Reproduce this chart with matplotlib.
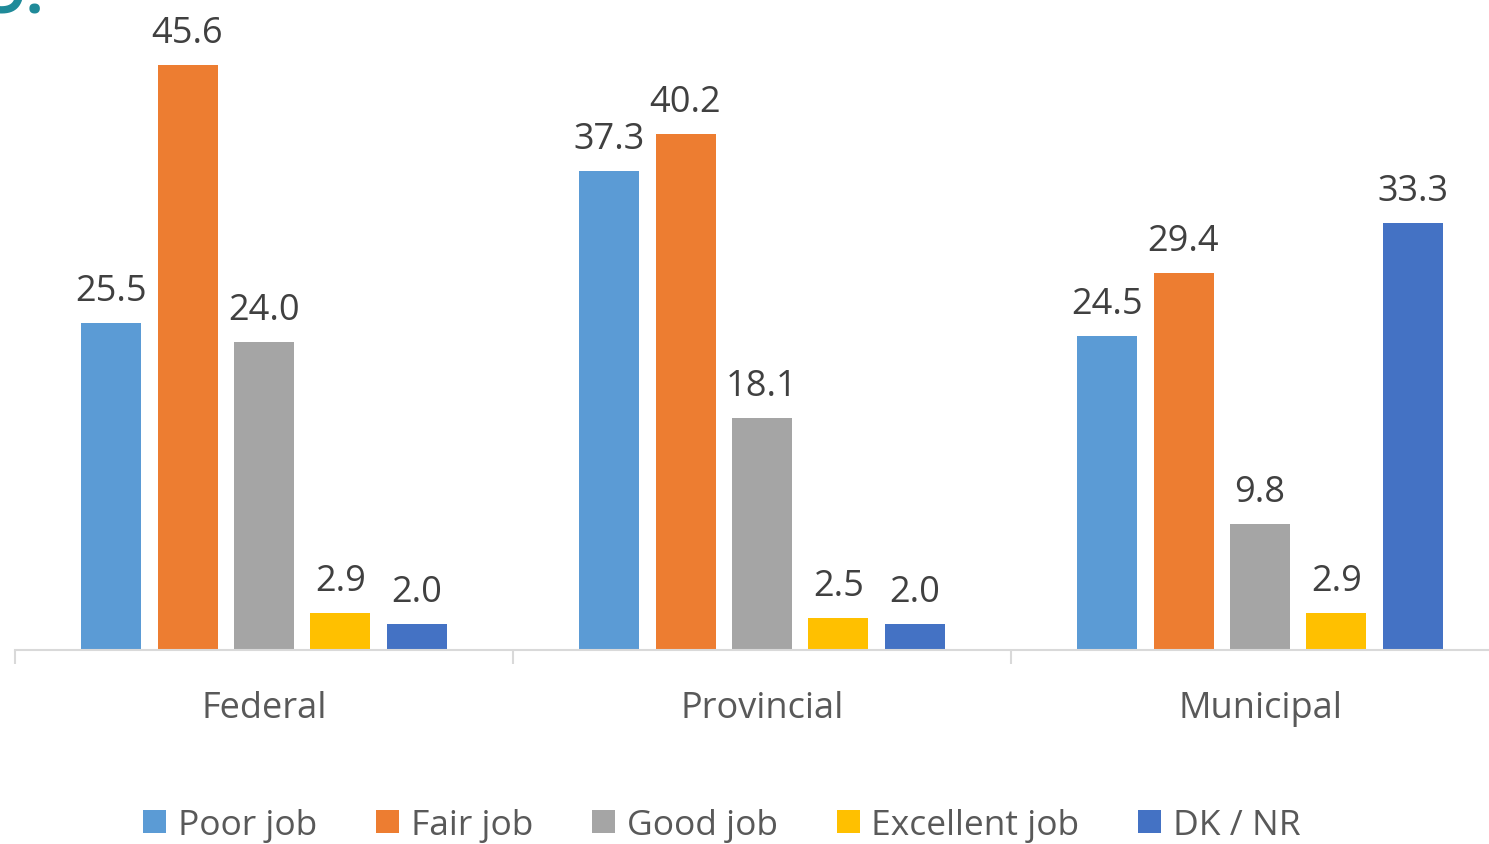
import numpy as np
import matplotlib.pyplot as plt

# ---------------------------------------------------------
# Data
# ---------------------------------------------------------
levels = ['Federal', 'Provincial', 'Municipal']
series_names = ['Poor job', 'Fair job', 'Good job', 'Excellent job', 'DK / NR']
poor_job = [25.5, 37.3, 24.5]
fair_job = [45.6, 40.2, 29.4]
good_job = [24.0, 18.1, 9.8]
excellent_job = [2.9, 2.5, 2.9]
dk_nr = [2.0, 2.0, 33.3]

colors = ['#5b9bd5', '#ed7d31', '#a5a5a5', '#ffc000', '#4472c4']
all_series = [poor_job, fair_job, good_job, excellent_job, dk_nr]

plt.rcParams['font.family'] = ['Open Sans', 'DejaVu Sans']

fig = plt.figure(figsize=(14.89, 8.45), dpi=100)
# axis runs slightly past the right edge, as in the cropped reference
ax = fig.add_axes([15 / 1489, (845 - 651) / 845, 1494 / 1489, (651 - 9.5) / 845])

x = np.arange(len(levels))
step = 0.1536
bar_width = 0.1205
for i, (name, vals, color) in enumerate(zip(series_names, all_series, colors)):
    pos = x + (i - 2) * step
    ax.bar(pos, vals, bar_width, color=color, label=name, zorder=2)
    for px, v in zip(pos, vals):
        ax.annotate(f'{v:.1f}', (px, v), xytext=(0, 23), textcoords='offset points',
                    ha='center', va='center', fontsize=26, color='#404040')

ax.set_xlim(-0.5, 2.5)
ax.set_ylim(0, 50)
ax.set_yticks([])
for side in ['top', 'right', 'left']:
    ax.spines[side].set_visible(False)
ax.spines['bottom'].set_color('#d9d9d9')
ax.spines['bottom'].set_linewidth(1.5)

ax.set_xticks([-0.5, 0.5, 1.5, 2.5], minor=False)
ax.set_xticklabels([])
ax.tick_params(axis='x', which='major', length=10, width=1.5, color='#d9d9d9')
ax.set_xticks(x, minor=True)
ax.set_xticklabels(levels, minor=True, fontsize=26, color='#595959')
ax.tick_params(axis='x', which='minor', length=0, pad=29)

fig.legend(loc='center', bbox_to_anchor=(722 / 1489, 1 - 826 / 845), ncol=5,
           frameon=False, fontsize=25.5, labelcolor='#595959',
           handlelength=0.65, handleheight=0.65, handletextpad=0.33,
           columnspacing=1.66, borderpad=0)

# cropped title fragment at the top-left corner
fig.text(-0.006, 1 - 13 / 845, '9.', fontsize=44, fontweight='bold',
         color='#1f8a99', va='baseline', ha='left')

fig.savefig('out.png', dpi=100)
